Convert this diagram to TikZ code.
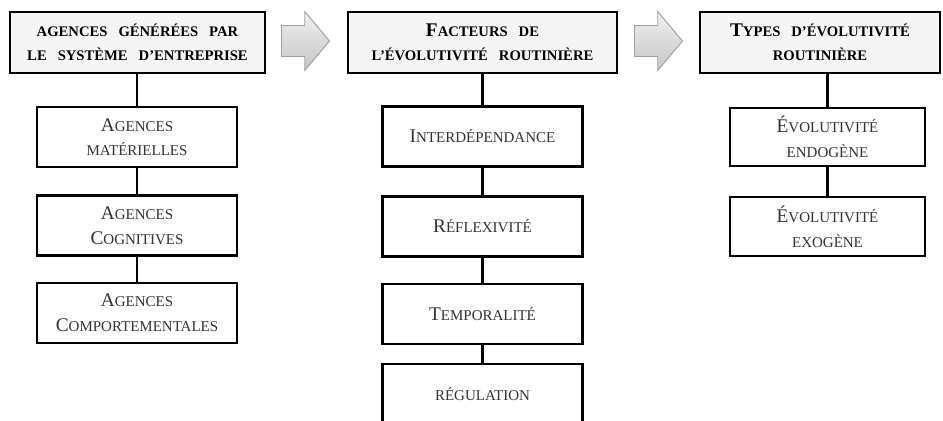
\documentclass[tikz,border=0pt]{standalone}
\usepackage{fontspec}
\setmainfont{Liberation Serif}
\usetikzlibrary{shapes.arrows}
\newcommand{\bigc}[1]{{\fontsize{16.5pt}{21pt}\selectfont #1}}
\newcommand{\headfont}{\bfseries\fontsize{12.5pt}{20.5pt}\selectfont\spaceskip=0.75em\relax}
\tikzset{
	titlebox/.style={rectangle,draw=black,line width=2.5pt,fill=gray!8,minimum height=1.83cm,align=center,font=\headfont},
	itembox/.style={rectangle,draw=black,line width=2.5pt,fill=white,minimum width=6cm,minimum height=1.8cm,align=center,text=black!80,font=\fontsize{12.8pt}{21pt}\selectfont},
	bigarrow/.style={single arrow,draw=gray!75,top color=gray!12,bottom color=gray!45,line width=0.8pt,inner xsep=0pt,inner ysep=0.45cm,minimum height=1.44cm,single arrow head extend=0.42cm,single arrow tip angle=100},
	link/.style={line width=2.5pt}}
\begin{document}
\begin{tikzpicture}[x=0.03cm,y=-0.03cm]
	\useasboundingbox (0,0) rectangle (943,421);
	\clip (0,0) rectangle (943,421);
	\node (H1) at (137.5,42.5) [titlebox,minimum width=7.65cm] {AGENCES GÉNÉRÉES PAR\\LE SYSTÈME D’ENTREPRISE};
	\node (H2) at (482.5,42.5) [titlebox,minimum width=8.07cm] {\bigc{F}ACTEURS DE\\L’ÉVOLUTIVITÉ ROUTINIÈRE};
	\node (H3) at (820,42.5) [titlebox,minimum width=7.2cm] {\bigc{T}YPES D’ÉVOLUTIVITÉ\\ROUTINIÈRE};
	\node (ar1) at (299,41) [bigarrow] {};
	\node (ar2) at (652,41) [bigarrow] {};
	\node (A1) at (137,137) [itembox] {\bigc{A}GENCES\\MATÉRIELLES};
	\node (A2) at (137,225.5) [itembox] {\bigc{A}GENCES\\\bigc{C}OGNITIVES};
	\node (A3) at (137,313) [itembox] {\bigc{A}GENCES\\\bigc{C}OMPORTEMENTALES};
	\node (F1) at (482.5,136.5) [itembox] {\bigc{I}NTERDÉPENDANCE};
	\node (F2) at (482.5,226.5) [itembox] {\bigc{R}ÉFLEXIVITÉ};
	\node (F3) at (482.5,314) [itembox] {\bigc{T}EMPORALITÉ};
	\node (F4) at (482.5,394) [itembox] {RÉGULATION};
	\node (T1) at (827.5,137) [itembox,minimum width=5.85cm,minimum height=1.74cm] {\bigc{É}VOLUTIVITÉ\\ENDOGÈNE};
	\node (T2) at (827.5,226.5) [itembox,minimum width=5.85cm,minimum height=1.77cm] {\bigc{É}VOLUTIVITÉ\\EXOGÈNE};
	\draw [link] (A1.north) -- (A1.north |- H1.south);
	\draw [link] (A2.north) -- (A1.south);
	\draw [link] (A3.north) -- (A2.south);
	\draw [link] (F1.north) -- (F1.north |- H2.south);
	\draw [link] (F2.north) -- (F1.south);
	\draw [link] (F3.north) -- (F2.south);
	\draw [link] (F4.north) -- (F3.south);
	\draw [link] (T1.north) -- (T1.north |- H3.south);
	\draw [link] (T2.north) -- (T1.south);
\end{tikzpicture}
\end{document}
